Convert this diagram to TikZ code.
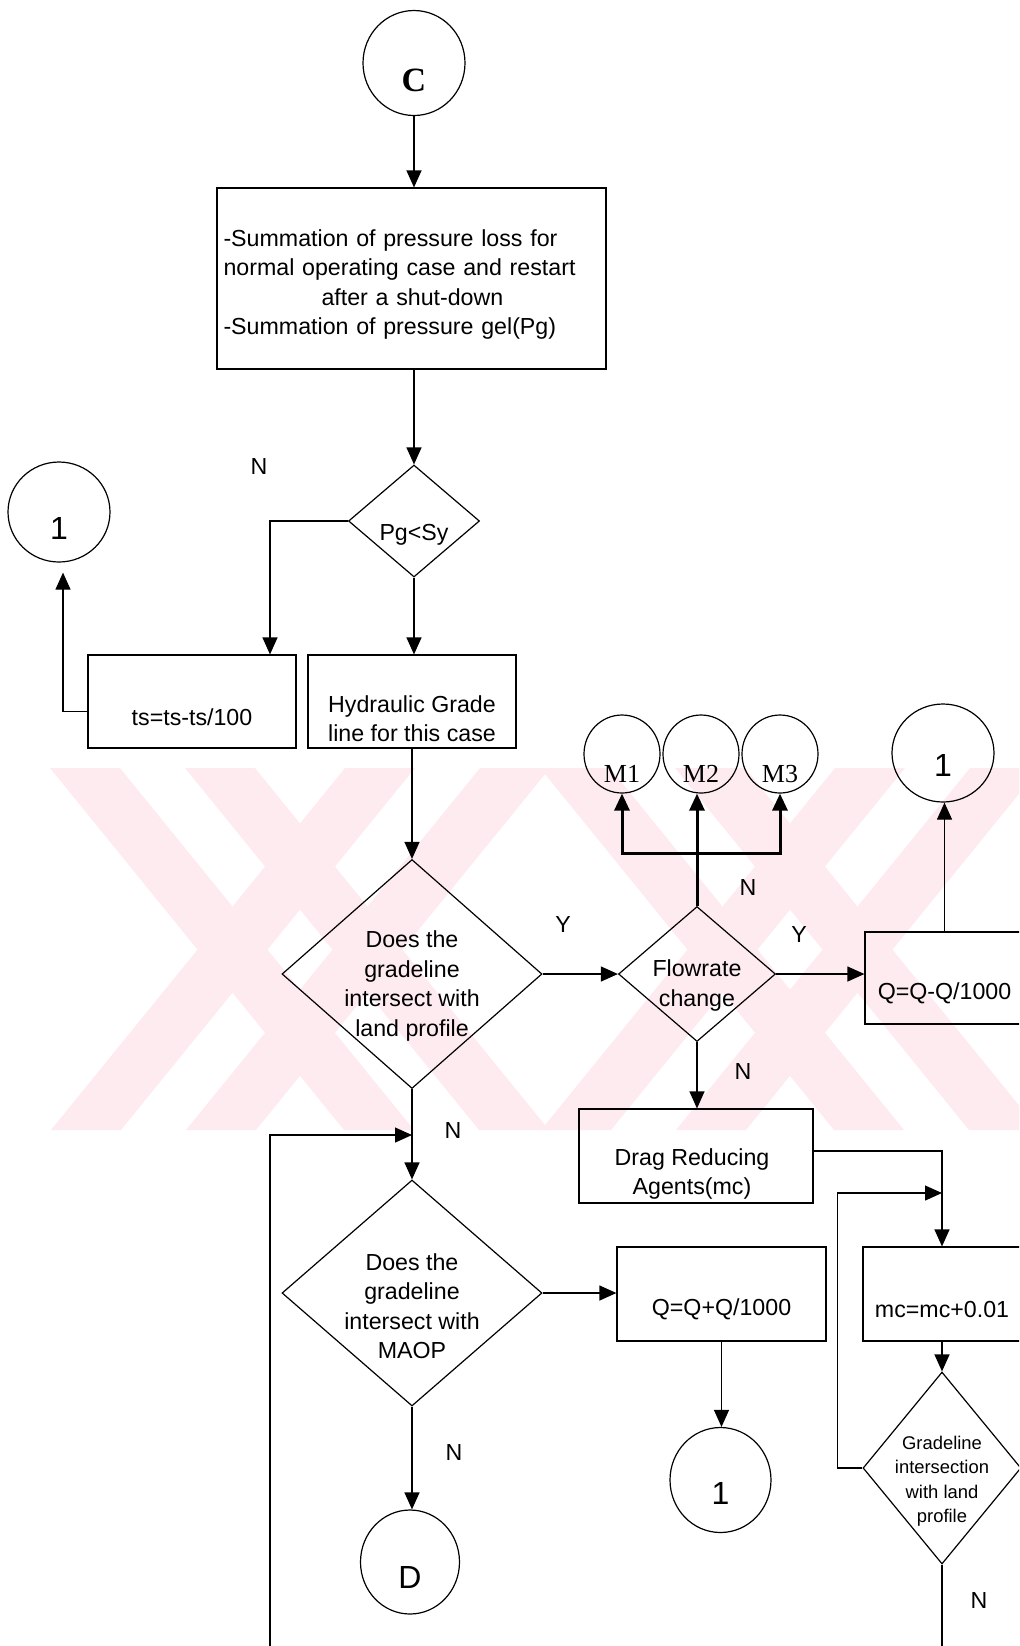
\documentclass[tikz,border=0pt]{standalone}
\usepackage{fontspec}
\setmainfont{Liberation Sans}
\newfontfamily\timesfont{Liberation Serif}
\usetikzlibrary{shapes.geometric, arrows.meta}

\newcommand{\nfont}{\fontsize{11.6}{14.7}\selectfont}
\newcommand{\sfont}{\fontsize{9.2}{12.25}\selectfont}
\newcommand{\bigfont}{\fontsize{16}{16}\selectfont}
\newcommand{\mfont}{\timesfont\fontsize{13}{13}\selectfont}
\definecolor{wmpink}{RGB}{253,235,239}

\begin{document}
\begin{tikzpicture}[
  x=0.5pt, y=-0.5pt,
  line width=0.6pt,
  font=\nfont,
  box/.style={draw, rectangle, inner sep=0pt},
  dec/.style={draw, diamond, inner sep=0pt},
  conn/.style={draw, ellipse, inner sep=0pt},
  txt/.style={align=center, inner sep=0pt, yshift=-7pt},
  arrow/.style={-{Triangle[length=8.5pt, width=7.5pt]}},
  heavy/.style={line width=1.5pt},
]
  \useasboundingbox (0,0) rectangle (1019,1646);
  \clip (0,0) rectangle (1019,1646);

  % watermark
  \foreach \cx in {300,790} {
    \foreach \a/\b in {-250/-180,-115/-45} {
      \fill[wmpink] ({\cx+\a},768) -- ({\cx+\b},768) -- ({\cx+\b+294},1130) -- ({\cx+\a+294},1130) -- cycle;
      \fill[wmpink] ({\cx-(\a)},768) -- ({\cx-(\b)},768) -- ({\cx-(\b)-294},1130) -- ({\cx-(\a)-294},1130) -- cycle;
    }
  }

  % main column
  \node[conn, minimum width=51pt, minimum height=52.5pt,
        label={[txt, yshift=-1.5pt, font=\timesfont\bfseries\fontsize{17}{17}\selectfont]center:C}] (c) at (414,63) {};
  \node[box, minimum width=194.5pt, minimum height=90.5pt,
        label={[txt, align=left, text width=188pt, yshift=4pt]center:{-Summation of pressure loss for\\
          normal operating case and restart\\
          \hspace*{49pt}after a shut-down\\
          -Summation of pressure gel(Pg)}}] (sum) at (411.5,278.5) {};
  \node[dec, minimum width=65.5pt, minimum height=56pt,
        label={[txt]center:Pg<Sy}] (pgsy) at (414,521) {};
  \node[conn, minimum width=51pt, minimum height=50pt,
        label={[txt, yshift=-1pt, font=\bigfont]center:1}] (one1) at (59,512) {};
  \node[box, minimum width=104pt, minimum height=46.5pt,
        label={[txt, yshift=-0.75pt]center:{ts=ts-ts/100}}] (ts) at (192,701.5) {};
  \node[box, minimum width=104pt, minimum height=46.5pt,
        label={[txt, yshift=-1.5pt]center:Hydraulic Grade\\line for this case}] (hgl) at (412,701.5) {};
  \node[dec, minimum width=130pt, minimum height=114.5pt,
        label={[txt, yshift=1pt]center:Does the\\gradeline\\intersect with\\land profile}] (land) at (412,974) {};
  \node[dec, minimum width=130pt, minimum height=113pt,
        label={[txt, yshift=0.5pt]center:Does the\\gradeline\\intersect with\\MAOP}] (maop) at (412,1293) {};
  \node[conn, minimum width=49.5pt, minimum height=52pt,
        label={[txt, yshift=-0.5pt, font=\bigfont]center:D}] (d) at (410,1562) {};

  % flowrate branch
  \node[dec, minimum width=78.5pt, minimum height=67.5pt,
        label={[txt, yshift=1.25pt]center:Flowrate\\change}] (flow) at (697,974) {};
  \node[conn, minimum width=38pt, minimum height=39pt,
        label={[txt, yshift=-3pt, font=\mfont]center:M1}] (m1) at (622,754) {};
  \node[conn, minimum width=38pt, minimum height=39pt,
        label={[txt, yshift=-3pt, font=\mfont]center:M2}] (m2) at (701,754) {};
  \node[conn, minimum width=38pt, minimum height=39pt,
        label={[txt, yshift=-3pt, font=\mfont]center:M3}] (m3) at (780,754) {};
  \node[box, minimum width=79.5pt, minimum height=46pt,
        label={[txt, yshift=-0.5pt]center:{Q=Q-Q/1000}}] (qdown) at (944.5,978) {};
  \node[conn, minimum width=51pt, minimum height=49pt,
        label={[txt, yshift=1pt, font=\bigfont]center:1}] (one2) at (943,753) {};
  \node[box, minimum width=117pt, minimum height=47pt,
        label={[txt, xshift=-2pt, yshift=-2pt]center:Drag Reducing\\Agents(mc)}] (dra) at (696,1156) {};
  \node[box, minimum width=79pt, minimum height=47pt,
        label={[txt, yshift=-0.5pt]center:{mc=mc+0.01}}] (mcup) at (942,1294) {};
  \node[dec, minimum width=79pt, minimum height=96pt,
        label={[txt, yshift=0.5pt, font=\sfont]center:Gradeline\\intersection\\with land\\profile}] (grad) at (942,1468) {};
  \node[box, minimum width=104.5pt, minimum height=47pt,
        label={[txt, yshift=-0.5pt]center:{Q=Q+Q/1000}}] (qup) at (721.5,1294) {};
  \node[conn, minimum width=50.5pt, minimum height=52.5pt,
        label={[txt, yshift=0.5pt, font=\bigfont]center:1}] (one3) at (720.5,1480) {};

  % Y / N marks
  \node (nPg) at (259,467) {N};
  \node (nLand) at (453,1131) {N};
  \node (nMaop) at (454,1452) {N};
  \node (nUp) at (748,888) {N};
  \node (nDown) at (743,1072) {N};
  \node (nGrad) at (979,1600) {N};
  \node (yLand) at (563,925) {Y};
  \node (yFlow) at (799,935) {Y};

  % connectors
  \draw[arrow] (c) -- (c |- sum.north);
  \draw[arrow] (pgsy |- sum.south) -- (pgsy);
  \draw[arrow] (pgsy.west) -| ([xshift=39pt]ts.north);
  \draw[arrow, shorten >=5pt] ([yshift=-5pt]ts.west) -| ([xshift=2pt]one1.south);
  \draw[arrow] (pgsy.south) -- (pgsy.south |- hgl.north);
  \draw[arrow] (hgl.south) -- (hgl.south |- land.north);
  \draw[arrow] (land.east) -- (flow.west);
  \draw[arrow] (flow.east) -- (flow.east -| qdown.west);
  \draw[arrow] (qdown.north) -- (qdown.north |- one2.south);
  \draw[arrow, heavy] (flow.north) -- (flow.north |- m2.south);
  \coordinate (mbar) at (flow.north |- 0,853);
  \draw[arrow, heavy] (mbar) -| (m1.south);
  \draw[arrow, heavy] (mbar) -| (m3.south);
  \draw[arrow] (flow.south) -- (flow.south |- dra.north);
  \draw[arrow] ([yshift=2.5pt]dra.east) -| (mcup.north);
  \coordinate (mcin) at (mcup.north |- 0,1193);
  \draw[arrow] (grad.west) -- ++(-25,0) |- (mcin);
  \draw[arrow] (mcup.south) -- (grad.north);
  \coordinate (gradend) at (grad.south |- 0,1660);
  \draw (grad.south) -- (gradend);
  \draw[arrow] (land.south) -- (land.south |- maop.north);
  \coordinate (loopfoot) at (270,1660);
  \coordinate (loopin) at (land.south |- 0,1135);
  \draw[arrow] (loopfoot) |- (loopin);
  \draw[arrow] (maop.east) -- (maop.east -| qup.west);
  \draw[arrow] (qup.south) -- (qup.south |- one3.north);
  \draw[arrow] (maop.south) -- (maop.south |- d.north);
\end{tikzpicture}
\end{document}
